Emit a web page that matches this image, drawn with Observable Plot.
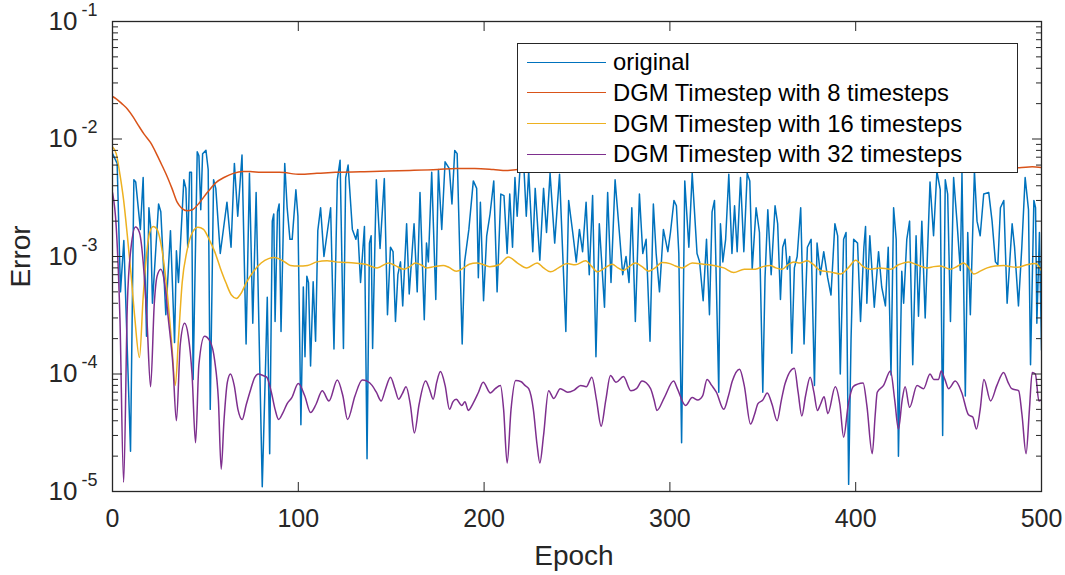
<!DOCTYPE html>
<html>
<head>
<meta charset="utf-8">
<script src="https://cdn.jsdelivr.net/npm/d3@7"></script>
<script src="https://cdn.jsdelivr.net/npm/@observablehq/plot@0.6"></script>
<style>
  html, body { margin: 0; padding: 0; background: #fff; }
  #wrap { position: relative; width: 1065px; height: 575px; font-family: "Liberation Sans", Arial, Helvetica, sans-serif; }
  #legend { position: absolute; left: 517px; top: 43px; width: 501px; height: 130px; box-sizing: border-box;
            border: 1.3px solid #262626; background: #fff; }
  .row { position: absolute; left: 0; height: 30px; width: 100%; }
  .sample { position: absolute; left: 9px; width: 79px; top: 14.5px; height: 0; border-top: 1.4px solid; }
  .lab { position: absolute; left: 95px; top: 0; line-height: 30px; font-size: 23.8px; color: #000; white-space: nowrap; }
</style>
</head>
<body>
<div id="wrap"></div>
<script>
// ---------------- data ----------------
const seriesNames = ["original", "DGM Timestep with 8 timesteps", "DGM Timestep with 16 timesteps", "DGM Timestep with 32 timesteps"];
const seriesColors = ["#0072BD", "#D95319", "#EDB120", "#7E2F8E"];
const xTicks = [0, 100, 200, 300, 400, 500];
const yTicks = [1e-5, 1e-4, 1e-3, 1e-2, 1e-1];

// [epoch, error]
const original = [
[0,0.0075],[2.5,0.0062],[4.3,0.0005],[6.1,0.00137],[9.7,2.2e-5],[11.5,0.0045],[12.5,0.0043],[15,0.0017],
[16.5,0.0047],[18.3,0.00021],[19.6,0.0026],[20.5,0.0018],[21.5,0.0004],[24.8,0.0028],[26,0.0024],[28.7,0.00032],
[31.2,0.00166],[33.4,0.000185],[34.4,0.00112],[35.5,0.0006],[38.4,0.0045],[39.5,0.0038],[40.5,0.0012],[41.5,0.0052],
[42.5,0.0052],[43.4,9e-5],[45.6,0.0078],[46.5,0.0072],[47.5,0.0025],[48.5,0.0075],[50.3,0.0080],[51.5,0.0055],
[52.6,5.0e-5],[54.4,0.0045],[55.6,0.0038],[58,0.00106],[61.6,0.0029],[63.8,0.0012],[65.6,0.0062],[67.4,0.0022],
[69.7,0.0073],[71.9,0.00018],[73.7,0.0051],[75.5,0.00027],[77.3,0.0035],[80.6,1.1e-5],[82.4,0.000122],[83.3,0.00045],
[84.6,2.1e-5],[86,0.0020],[86.8,0.0023],[87.5,0.00028],[88.8,0.0024],[89.7,0.0028],[90.7,0.00023],[92.7,0.0062],
[94,0.0026],[95.5,0.0014],[96.7,0.0014],[98.7,0.0037],[99.8,0.0022],[101.4,3.7e-5],[102.7,0.00055],[103.6,0.00014],
[104.6,0.00068],[105.5,0.0006],[106.6,0.000117],[108,0.00061],[109.3,0.00019],[110.5,0.00166],[112,0.0026],[113.8,0.001],
[117.4,0.0026],[119.2,0.000163],[121,0.0045],[122.5,0.0066],[124.3,0.000165],[125.5,0.0047],[126.8,0.0060],[129.1,0.0017],
[131,0.0014],[132,0.0017],[133.5,0.0006],[135.6,0.0018],[137,1.9e-5],[138.3,0.0013],[139.2,0.0015],[140,0.000165],
[142,0.0045],[144,0.00117],[146.3,0.0046],[148,0.00032],[149.6,0.0012],[151,0.0011],[152.3,0.00028],[153.6,0.0007],
[155,0.0009],[156.2,0.00038],[158.3,0.0019],[159.7,0.00048],[162.3,0.0019],[164,0.0005],[165.5,0.0035],[167.8,0.00029],
[169,0.0013],[170,0.0009],[171.8,0.0052],[174,0.00043],[175.4,0.0055],[177.2,0.0017],[179,0.0064],[181.3,0.0056],
[182.7,0.0028],[184.2,0.0080],[185.5,0.0075],[188.2,0.00018],[189.5,0.0009],[191.8,0.0017],[194.2,0.0044],[196,0.0038],
[196.9,0.00066],[198,0.0029],[199.7,0.00042],[201.4,0.0015],[203.2,0.0023],[205.2,0.0044],[207,0.0005],[209,0.0034],
[210.7,0.0033],[212.4,0.00106],[213.8,0.0034],[215.3,0.0012],[216.6,0.0047],[217.8,0.0022],[219.3,0.0055],[221.5,0.0054],
[222.7,0.0022],[224,0.0053],[226.2,0.0011],[227.5,0.0038],[230,0.00093],[232,0.0038],[233.6,0.0016],[235.5,0.0051],
[238,0.0013],[240.6,0.0050],[244,0.00023],[245.5,0.0030],[247.7,0.0016],[249.6,0.0009],[251.3,0.0017],[253,0.0011],
[254.9,0.0029],[256.6,0.0007],[258.4,0.0033],[260.2,0.00014],[262,0.0019],[264.8,0.00037],[266.5,0.0035],[268.3,0.0006],
[270.5,0.0045],[272.8,0.0016],[274.6,0.0007],[276.4,0.001],[278,0.0006],[279.5,0.0026],[281.4,0.00028],[283.6,0.0034],
[285.4,0.00106],[287.2,0.0014],[289.3,0.00019],[291.1,0.0028],[292.6,0.00106],[294.4,0.0005],[296.5,0.0017],[298.9,0.0011],
[300.3,0.0016],[302.2,0.0030],[303.5,0.0027],[304.8,0.00106],[306.3,2.6e-5],[308,0.0044],[310.2,0.0012],[312,0.0051],
[314.6,0.00106],[316,0.0009],[317.9,0.00042],[319.7,0.0014],[321.3,0.00032],[322.7,0.0024],[324,0.0030],[326.3,7e-5],
[327.2,0.0019],[328.5,0.0009],[330,0.0014],[331.7,0.0050],[333.4,0.00106],[334.8,0.0027],[336.2,0.0011],[338,0.0047],
[339.8,0.0011],[341.6,0.0051],[343,0.0044],[344.3,0.00078],[346.4,0.0026],[348.2,0.0016],[350,7e-5],[351.2,0.00066],
[352.7,0.0025],[354.5,0.0007],[356.6,0.0027],[358,0.0019],[359.5,0.00043],[360.7,0.0012],[362,0.0014],[363.2,0.00078],
[364.5,0.001],[365.6,0.00015],[367,0.0008],[368.5,0.001],[370.4,0.0026],[372.2,0.00018],[374,0.0012],[376,0.0014],
[377.8,8e-5],[379.2,0.0013],[381,0.0007],[382.8,0.0011],[384.9,0.00066],[386.7,0.00047],[388.8,0.0019],[390.3,0.0015],
[391.7,1e-4],[393.5,0.0014],[394.8,0.0016],[396.2,1.15e-5],[397.5,0.0002],[398.9,0.0014],[401,0.0013],[402.6,0.00028],
[404.4,0.0012],[405.3,0.0018],[406,0.0004],[407.6,0.0015],[410,0.00037],[412.3,0.0011],[414,0.00055],[416,0.00038],
[417.5,0.0012],[419,9.8e-5],[420.4,0.0026],[421.8,0.0014],[423,2e-5],[424.8,0.00075],[425.8,0.0004],[427.5,0.0014],
[429,0.0020],[430.7,0.00012],[432.5,0.0015],[433.8,0.00031],[435.6,0.0020],[437.4,0.0003],[440,0.0043],[441.9,0.0015],
[443.7,0.0053],[445.5,0.0037],[446.8,3e-5],[448.2,0.0045],[449.5,0.0034],[451,0.00028],[452.7,0.0047],[454.6,0.0019],
[456.3,0.00076],[457.2,0.0051],[459,6.5e-5],[460.3,0.0016],[461.7,0.00032],[463.9,0.0053],[465.3,0.002],[467,0.0015],
[468.9,0.0034],[471.6,0.0035],[473.4,0.0020],[475.2,0.0009],[476.5,0.00085],[477.9,0.0026],[479.7,0.0030],[481.5,0.0004],
[484.2,0.0019],[485.5,0.0012],[487.6,0.00038],[489.4,0.0012],[491.2,0.0047],[493,0.0025],[494.1,0.00012],[495.9,0.0030],
[496.8,0.0026],[497.5,0.00027],[498.9,0.0016],[500,0.00016]
];

const dgm8 = [
[0,0.023],[2,0.022],[5,0.020],[8,0.018],[11,0.0155],[14,0.013],[17,0.011],[20.5,0.0093],[24,0.0073],[27,0.0058],
[29.4,0.0048],[32,0.0038],[34.8,0.0029],[37,0.0026],[40,0.00245],[43,0.0025],[47,0.0029],[51,0.0035],[56,0.0043],
[60,0.0047],[65,0.0051],[70,0.0053],[74,0.0053],[80,0.0052],[90,0.0052],[101,0.0050],[110,0.0051],[120,0.0052],
[140,0.0053],[160,0.0054],[175,0.0055],[185,0.0056],[195,0.0056],[205,0.0055],[212,0.0054],[218,0.0055],[230,0.0056],
[260,0.0056],[300,0.0057],[350,0.0057],[400,0.0057],[450,0.0057],[488,0.0057],[495,0.0058],[500,0.0057]
];

const dgm16 = [
[0,0.0086],[2,0.0075],[4,0.005],[6,0.003],[8,0.0015],[10,0.0007],[12,0.0003],[14.5,0.000138],[16.5,0.00045],
[18.5,0.0011],[20,0.0016],[22,0.0018],[24,0.0017],[26,0.0013],[28,0.0008],[30,0.0004],[32,0.00017],[33.8,8e-5],
[35.5,0.0002],[37.5,0.0006],[40,0.0011],[43,0.0016],[46,0.00177],[49,0.0017],[52,0.0014],[55,0.0011],[58,0.0008],
[61,0.0006],[64,0.00047],[66.7,0.00044],[69,0.00048],[72,0.0006],[76,0.00075],[80,0.00088],[84,0.00096],[87,0.00098],
[90,0.00095],[94,0.00087],[95.8,0.00084],[100,0.00083],[105,0.00084],[110,0.0009],[115.5,0.00092],[120,0.0009],
[125,0.00089],[130,0.00088],[136,0.00086],[142.4,0.0008],[148.6,0.00088],[152,0.00084],[156.7,0.00078],[160,0.00082],
[163,0.00088],[166,0.00085],[169,0.0008],[173,0.00082],[178,0.00084],[181,0.00081],[185,0.00075],[189,0.0008],
[192,0.00086],[196,0.00088],[199,0.00086],[203,0.00082],[208,0.00085],[213,0.00099],[218,0.00088],[223,0.0008],
[228.6,0.00088],[232,0.0008],[235.7,0.00074],[240,0.0008],[244.7,0.00087],[249,0.00085],[254.6,0.00092],[258,0.00082],
[260.9,0.00074],[265,0.0008],[269,0.00086],[272,0.0008],[275,0.00076],[278,0.00082],[281.5,0.00088],[285,0.00082],
[288.6,0.00075],[292,0.0008],[295.8,0.00089],[300,0.00087],[303,0.00083],[306.6,0.0008],[312,0.00088],[318,0.00086],
[323.6,0.00084],[329,0.0008],[334.4,0.00073],[340,0.00078],[346,0.00078],[350,0.00082],[354,0.00084],[357,0.0008],
[360.4,0.00078],[363.5,0.00085],[366.7,0.0009],[370,0.00088],[373.9,0.00092],[377,0.00086],[381,0.00076],[386,0.00074],
[391.8,0.00071],[396,0.0008],[400,0.00093],[404,0.00082],[408,0.00078],[413,0.0008],[418.7,0.00078],[423,0.00085],
[428.6,0.0009],[433,0.00085],[438.5,0.0008],[442,0.00082],[445.6,0.00083],[451,0.00078],[455,0.00083],[458,0.00088],
[461,0.0008],[463.6,0.00071],[467,0.00075],[470.8,0.0008],[475,0.00083],[479.7,0.00084],[483,0.00082],[487,0.00081],
[492,0.00085],[496.8,0.00087],[500,0.00076]
];

const dgm32 = [
[0,0.0035],[2,0.0018],[4,0.0003],[6,1.2e-5],[8,0.0004],[10,0.0012],[12.4,0.00178],[14.5,0.0016],[16.5,0.0009],
[18.5,0.0003],[20.5,7.8e-5],[22.5,0.0004],[24,0.00068],[26,0.00078],[28,0.0006],[30,0.0003],[32.5,0.00012],[34.4,4.0e-5],
[36.5,0.00018],[38.8,0.00027],[40.8,0.00021],[42.8,0.0001],[44.7,2.6e-5],[46.5,0.00012],[49.5,0.00021],[52.5,0.00019],
[55,0.00013],[57,6e-5],[58.5,1.55e-5],[60,4e-5],[61.8,8.5e-5],[63.5,1.0e-4],[65.5,8e-5],[67.5,5e-5],[69.8,4.1e-5],
[72,5.5e-5],[74.5,7.5e-5],[76.5,9.3e-5],[78.6,1.0e-4],[81,9.7e-5],[83,9.4e-5],[85.5,7e-5],[87.5,5e-5],[89.4,4.1e-5],
[91.5,4.6e-5],[94,5.6e-5],[96.5,6.3e-5],[100,8.3e-5],[103.5,6.5e-5],[106.6,4.7e-5],[109.5,5.5e-5],[112.9,7.2e-5],
[116.5,5.9e-5],[121,8.9e-5],[124,6.5e-5],[126.5,4.1e-5],[130.5,6.5e-5],[134.4,8.9e-5],[137,8.7e-5],[139.7,8.0e-5],
[142,7e-5],[144.6,5.9e-5],[147,7.5e-5],[149.6,9.4e-5],[152,7.5e-5],[154,6.1e-5],[156,6.8e-5],[158,7.8e-5],[160.3,5.5e-5],
[162.5,3.15e-5],[165,5.5e-5],[168.5,8.7e-5],[170.5,7.5e-5],[172.6,6.1e-5],[174.5,8.5e-5],[176.5,1.05e-4],[179,8e-5],
[181.4,5.0e-5],[183.2,5.8e-5],[185,6.1e-5],[188,5.4e-5],[189.7,5.8e-5],[191.5,4.9e-5],[194,5.6e-5],[197,7e-5],
[199.5,8.5e-5],[203.4,6.9e-5],[206,7.5e-5],[208.8,8e-5],[210.5,5e-5],[212.4,1.75e-5],[214.5,5e-5],[217,8.8e-5],
[220,8.6e-5],[222,8e-5],[224,7.5e-5],[226.5,5e-5],[228.5,2.5e-5],[230,1.75e-5],[232,3e-5],[234.7,7.2e-5],[237.5,6.2e-5],
[241,7.5e-5],[245,7e-5],[248.5,7.3e-5],[252,8e-5],[255,7.8e-5],[258,9.4e-5],[260.5,6e-5],[263,3.6e-5],[265.5,6e-5],
[268,9.7e-5],[271,8.5e-5],[275,9.5e-5],[279,7.2e-5],[282,7.5e-5],[285,8.7e-5],[289.6,7.5e-5],[291.5,6e-5],[293,4.9e-5],
[297,6.3e-5],[302,8.7e-5],[304,7.5e-5],[308.4,5.4e-5],[312,6.3e-5],[315,6e-5],[317.6,6.5e-5],[320,9e-5],[322.5,8e-5],
[325,7e-5],[329,5.0e-5],[331.5,6.5e-5],[333.6,8.7e-5],[337.5,1.1e-4],[340,8e-5],[343.4,3.75e-5],[345.5,4.5e-5],
[347.4,5.6e-5],[350,6e-5],[352.4,6.9e-5],[355,5.5e-5],[357.7,4e-5],[360,6e-5],[362,8.3e-5],[367,1.12e-4],[369,7e-5],
[371,4.4e-5],[373,6.5e-5],[375.5,9.4e-5],[377.5,7e-5],[379.4,4.9e-5],[381,5.5e-5],[383,6.4e-5],[385,4.6e-5],[389,7.8e-5],
[391.5,5.5e-5],[393.5,2.9e-5],[396,5.5e-5],[398.6,7.8e-5],[401,8.2e-5],[404,8.4e-5],[406,5.4e-5],[408.9,2.1e-5],
[410.5,4.5e-5],[411.6,7e-5],[415,8e-5],[418.7,1.06e-4],[421,6e-5],[423,3.4e-5],[425,6e-5],[426.6,7.8e-5],[429,5.2e-5],
[433,8e-5],[436.5,7.5e-5],[440,1.0e-4],[442,9e-5],[444.6,9e-5],[446,1.06e-4],[448,9e-5],[450,7.5e-5],[453.6,8.7e-5],
[457,7e-5],[460.7,4.5e-5],[463,4.3e-5],[465,3.4e-5],[467,5e-5],[469,9e-5],[472.6,5.9e-5],[476,8e-5],[479.6,1.03e-4],
[482,8.5e-5],[484,7.5e-5],[487.7,7.2e-5],[489.5,4.5e-5],[491.7,2.1e-5],[493.5,5e-5],[495,1.03e-4],[496.7,1e-4],
[498.6,5.9e-5],[500,6e-5]
];

// ---------------- chart ----------------
const minorTicks = [];
for (let k = -5; k < -1; k++) for (let m = 2; m <= 9; m++) minorTicks.push(m * Math.pow(10, k));
const ink = "#262626";
const lw = 1.5;

const chart = Plot.plot({
  width: 1065, height: 575,
  marginLeft: 112, marginRight: 24, marginTop: 21, marginBottom: 84,
  style: { fontFamily: "'Liberation Sans', Arial, Helvetica, sans-serif", color: ink, background: "white", overflow: "visible" },
  x: { domain: [0, 500] },
  y: { type: "log", domain: [1e-5, 1e-1] },
  marks: [
    Plot.line(original, { x: d => d[0], y: d => d[1], stroke: seriesColors[0], strokeWidth: lw, clip: true }),
    Plot.line(dgm8, { x: d => d[0], y: d => d[1], stroke: seriesColors[1], strokeWidth: lw, curve: "monotone-x", clip: true }),
    Plot.line(dgm16, { x: d => d[0], y: d => d[1], stroke: seriesColors[2], strokeWidth: lw, curve: "monotone-x", clip: true }),
    Plot.line(dgm32, { x: d => d[0], y: d => d[1], stroke: seriesColors[3], strokeWidth: lw, curve: "monotone-x", clip: true }),
    // inward ticks
    Plot.axisX({ anchor: "bottom", ticks: xTicks, tickSize: 9, dy: -9, tickFormat: () => "", label: null, stroke: ink }),
    Plot.axisX({ anchor: "top", ticks: xTicks, tickSize: 9, dy: 9, tickFormat: () => "", label: null, stroke: ink }),
    Plot.axisY({ anchor: "left", ticks: yTicks, tickSize: 10, dx: 10, tickFormat: () => "", label: null, stroke: ink }),
    Plot.axisY({ anchor: "right", ticks: yTicks, tickSize: 10, dx: -10, tickFormat: () => "", label: null, stroke: ink }),
    Plot.axisY({ anchor: "left", ticks: minorTicks, tickSize: 6, dx: 6, tickFormat: () => "", label: null, stroke: ink }),
    Plot.axisY({ anchor: "right", ticks: minorTicks, tickSize: 6, dx: -6, tickFormat: () => "", label: null, stroke: ink }),
    // tick labels
    Plot.axisX({ anchor: "bottom", ticks: xTicks, tickSize: 0, tickPadding: 18, tickFormat: d => String(d), fontSize: 25, label: null, fill: ink }),
    Plot.axisY({ anchor: "left", ticks: yTicks, tickSize: 0, tickPadding: 15, tickFormat: d => "10^" + Math.round(Math.log10(d)), fontSize: 26, label: null, fill: ink }),
    // axis titles
    Plot.text(["Epoch"], { frameAnchor: "bottom", text: d => d, dx: -3, dy: 65, fontSize: 28, textAnchor: "middle", lineAnchor: "middle", fill: ink }),
    Plot.text(["Error"], { frameAnchor: "left", text: d => d, dx: -91, rotate: -90, fontSize: 28, textAnchor: "middle", lineAnchor: "middle", fill: ink }),
    Plot.frame({ stroke: ink, strokeWidth: 1.3 })
  ]
});

// superscript exponents on the y tick labels
d3.select(chart).selectAll('g[aria-label="y-axis tick label"] text').each(function () {
  const t = this.textContent;
  const parts = t.split("^");
  if (parts.length !== 2) return;
  this.textContent = "";
  const s = d3.select(this);
  s.append("tspan").text(parts[0]);
  s.append("tspan").attr("dx", 4).attr("dy", -14).attr("font-size", 18).text(parts[1]);
});

const wrap = document.getElementById("wrap");
wrap.appendChild(chart);

// legend
const legend = document.createElement("div");
legend.id = "legend";
const rowCenters = [18, 48.5, 79.5, 110];
seriesNames.forEach((name, i) => {
  const row = document.createElement("div");
  row.className = "row";
  row.style.top = (rowCenters[i] - 15) + "px";
  const sample = document.createElement("div");
  sample.className = "sample";
  sample.style.borderTopColor = seriesColors[i];
  const lab = document.createElement("div");
  lab.className = "lab";
  lab.textContent = name;
  row.appendChild(sample);
  row.appendChild(lab);
  legend.appendChild(row);
});
wrap.appendChild(legend);
</script>
</body>
</html>
